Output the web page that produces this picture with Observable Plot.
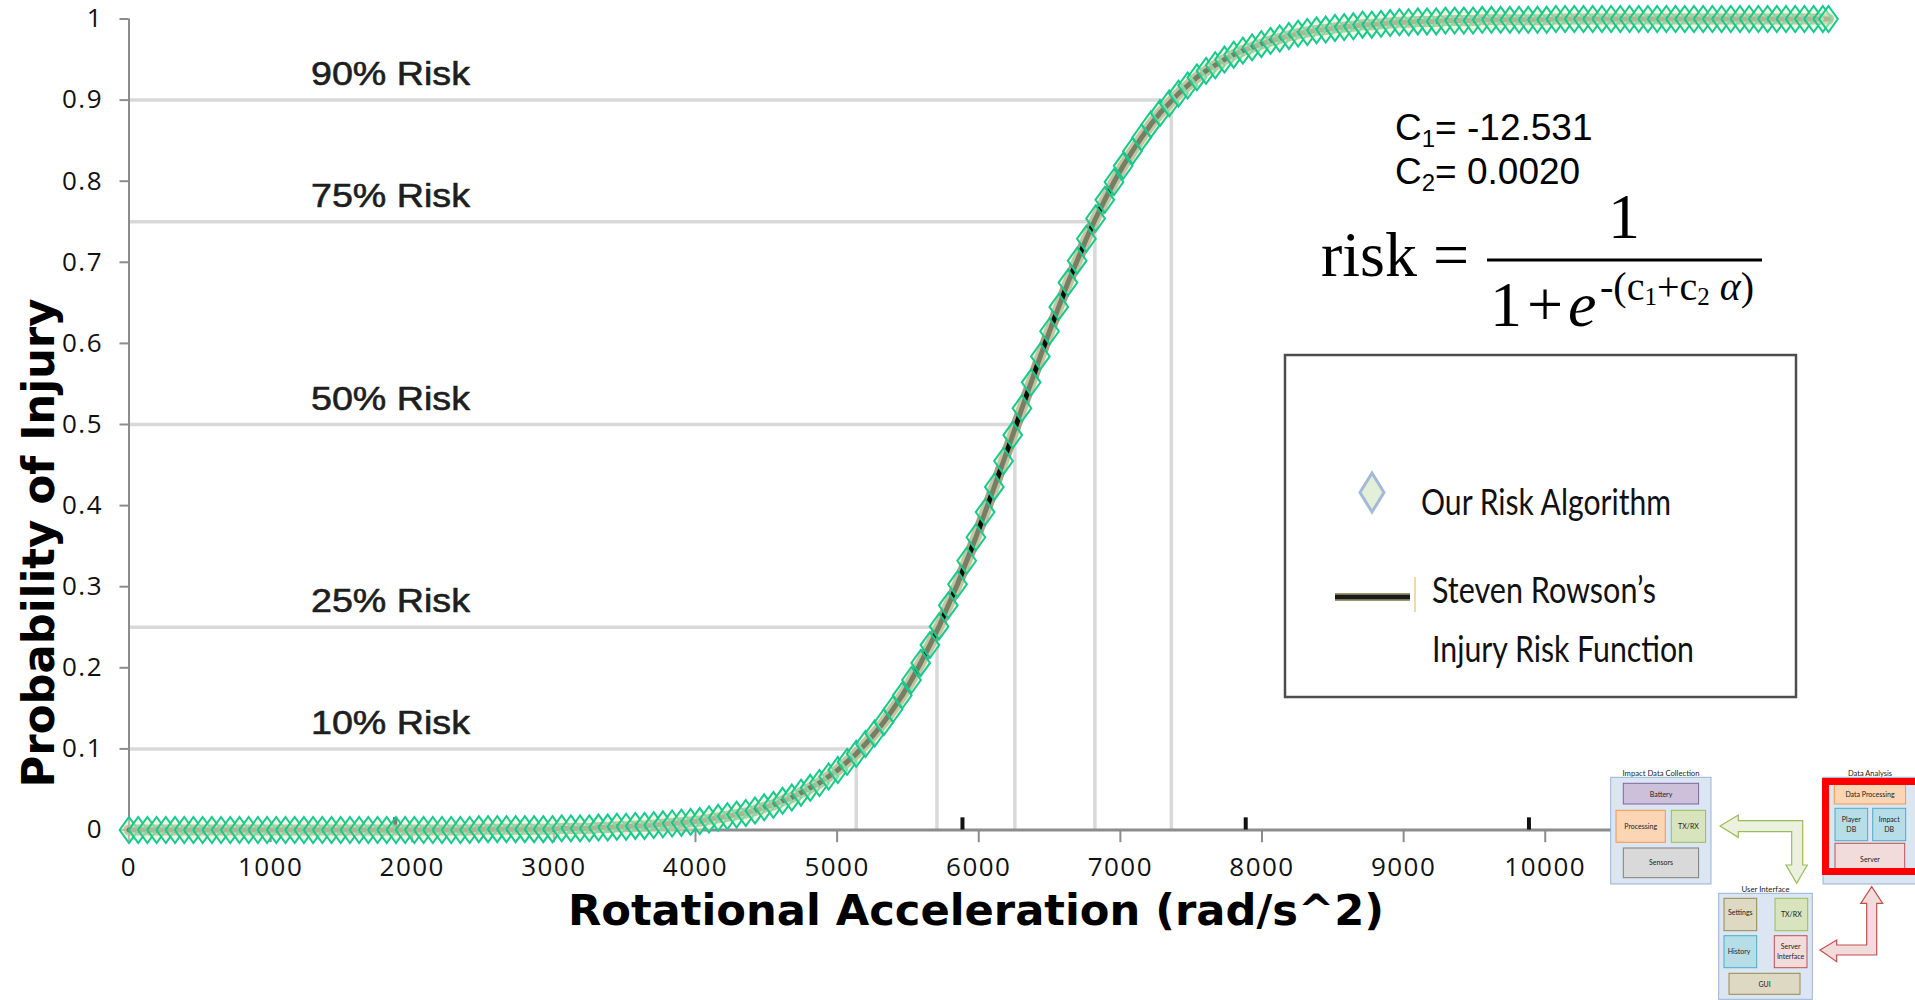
<!DOCTYPE html>
<html>
<head>
<meta charset="utf-8">
<script src="https://cdn.jsdelivr.net/npm/d3@7"></script>
<script src="https://cdn.jsdelivr.net/npm/@observablehq/plot@0.6"></script>
<style>
  html, body { margin: 0; padding: 0; background: #fff; }
  #wrap { position: relative; width: 1915px; height: 1000px; overflow: hidden; }
  #chart svg { display: block; }
  #overlay { position: absolute; left: 0; top: 0; pointer-events: none; }
  #chart [aria-label^="x-axis"] line, #chart [aria-label^="y-axis"] line,
  #chart [aria-label="x-axis tick"] path, #chart [aria-label="y-axis tick"] path,
  #chart [aria-label="x-axis tick"], #chart [aria-label="y-axis tick"] { stroke: #8c8c8c; stroke-width: 2px; }
  #chart [aria-label^="x-axis"] text, #chart [aria-label^="y-axis"] text { letter-spacing: 1.5px; fill: #111; }
</style>
</head>
<body>
<div id="wrap">
  <div id="chart"></div>
  <svg id="overlay" width="1915" height="1000" viewBox="0 0 1915 1000" xmlns="http://www.w3.org/2000/svg">
    <!-- axis titles -->
    <text x="976" y="925" text-anchor="middle" font-family="'DejaVu Sans', sans-serif" font-weight="bold" font-size="42" textLength="816" lengthAdjust="spacingAndGlyphs" fill="#000">Rotational Acceleration (rad/s^2)</text>
    <text transform="translate(54,543) rotate(-90)" text-anchor="middle" font-family="'DejaVu Sans', sans-serif" font-weight="bold" font-size="44" textLength="489" lengthAdjust="spacingAndGlyphs" fill="#000">Probability of Injury</text>

    <!-- coefficients -->
    <text x="1395" y="140" font-family="'Liberation Sans', Arial, sans-serif" font-size="37" fill="#000">C<tspan font-size="24" dy="7">1</tspan><tspan dy="-7">= -12.531</tspan></text>
    <text x="1395" y="184" font-family="'Liberation Sans', Arial, sans-serif" font-size="37" fill="#000">C<tspan font-size="24" dy="7">2</tspan><tspan dy="-7">= 0.0020</tspan></text>

    <!-- formula -->
    <g font-family="'Liberation Serif', 'Times New Roman', serif" fill="#000">
      <text x="1321" y="276" font-size="64">risk =</text>
      <text x="1624" y="238" font-size="64" text-anchor="middle">1</text>
      <line x1="1487" x2="1762" y1="260" y2="260" stroke="#000" stroke-width="3"/>
      <text x="1490" y="326" font-size="64">1</text>
      <text x="1527" y="326" font-size="64">+</text>
      <text x="1568" y="326" font-size="64" font-style="italic">e</text>
      <text x="1600" y="300" font-size="40">-(c<tspan font-size="25" dy="5">1</tspan><tspan dy="-5">+c</tspan><tspan font-size="25" dy="5">2</tspan><tspan dy="-5"> </tspan><tspan font-style="italic">α</tspan>)</text>
    </g>

    <!-- legend -->
    <rect x="1285" y="355" width="511" height="342" fill="#fff" stroke="#4d4d4d" stroke-width="2.5"/>
    <path d="M1372,473 L1384,492.5 L1372,512 L1360,492.5 Z" fill="#e2efd9" stroke="#a4b9d6" stroke-width="3"/>
    <text x="1421" y="515" font-family="Lato, 'Open Sans', sans-serif" font-size="37" textLength="250" lengthAdjust="spacingAndGlyphs" fill="#111">Our Risk Algorithm</text>
    <line x1="1335" x2="1410" y1="597" y2="597" stroke="#9a9670" stroke-width="8"/>
    <line x1="1335" x2="1410" y1="597" y2="597" stroke="#1a1a1a" stroke-width="4.5"/>
    <line x1="1415" x2="1415" y1="577" y2="612" stroke="#f0c98a" stroke-width="1.5"/>
    <text x="1432" y="603" font-family="Lato, 'Open Sans', sans-serif" font-size="37" textLength="224" lengthAdjust="spacingAndGlyphs" fill="#111">Steven Rowson’s</text>
    <text x="1432" y="662" font-family="Lato, 'Open Sans', sans-serif" font-size="37" textLength="262" lengthAdjust="spacingAndGlyphs" fill="#111">Injury Risk Function</text>

    <!-- system diagram -->
    <g font-family="Lato, 'Open Sans', sans-serif" fill="#222" stroke-width="1">
      <text x="1661" y="776" font-size="8" text-anchor="middle" textLength="77" lengthAdjust="spacingAndGlyphs">Impact Data Collection</text>
      <rect x="1610.7" y="777.3" width="100.3" height="106.7" fill="#dce6f2" stroke="#95b3d7"/>
      <rect x="1623.3" y="783.3" width="75.3" height="20.7" fill="#ccc0da" stroke="#8064a2"/>
      <text x="1661" y="796.5" font-size="7" text-anchor="middle">Battery</text>
      <rect x="1616" y="810.3" width="49.3" height="32" fill="#fcd5b5" stroke="#f79646"/>
      <text x="1640.7" y="829" font-size="7" text-anchor="middle">Processing</text>
      <rect x="1671.3" y="810.3" width="34.3" height="32" fill="#d7e4bd" stroke="#9bbb59"/>
      <text x="1688.5" y="829" font-size="7" text-anchor="middle">TX/RX</text>
      <rect x="1623.3" y="848" width="75.3" height="29.7" fill="#d9d9d9" stroke="#7f7f7f"/>
      <text x="1661" y="865" font-size="7" text-anchor="middle">Sensors</text>

      <text x="1870" y="776" font-size="8" text-anchor="middle" textLength="44" lengthAdjust="spacingAndGlyphs">Data Analysis</text>
      <rect x="1823" y="777.3" width="100" height="106.7" fill="#dce6f2" stroke="#95b3d7"/>
      <rect x="1834.3" y="783.3" width="71.3" height="20.7" fill="#fcd5b5" stroke="#f79646"/>
      <text x="1870" y="796.5" font-size="7" text-anchor="middle">Data Processing</text>
      <rect x="1835" y="808.3" width="32.7" height="32.4" fill="#b7dde8" stroke="#4bacc6"/>
      <text x="1851.3" y="821.5" font-size="7" text-anchor="middle">Player</text>
      <text x="1851.3" y="831.5" font-size="7" text-anchor="middle">DB</text>
      <rect x="1872.7" y="808.3" width="33" height="32.4" fill="#b7dde8" stroke="#4bacc6"/>
      <text x="1889.2" y="821.5" font-size="7" text-anchor="middle">Impact</text>
      <text x="1889.2" y="831.5" font-size="7" text-anchor="middle">DB</text>
      <rect x="1835" y="843.3" width="69.7" height="30.7" fill="#f2dcdb" stroke="#c0504d"/>
      <text x="1870" y="862" font-size="7" text-anchor="middle">Server</text>
      <rect x="1825.5" y="781.5" width="100" height="90" fill="none" stroke="#ff0000" stroke-width="7"/>

      <text x="1765.5" y="892" font-size="8" text-anchor="middle" textLength="48" lengthAdjust="spacingAndGlyphs">User Interface</text>
      <rect x="1718.7" y="893.3" width="93.6" height="106" fill="#dce6f2" stroke="#95b3d7"/>
      <rect x="1724" y="898.3" width="32.7" height="32.4" fill="#ddd9c3" stroke="#948a54"/>
      <text x="1740.3" y="915" font-size="7" text-anchor="middle">Settings</text>
      <rect x="1775" y="898.3" width="32.7" height="32.4" fill="#d7e4bd" stroke="#9bbb59"/>
      <text x="1791.3" y="917" font-size="7" text-anchor="middle">TX/RX</text>
      <rect x="1724" y="935.7" width="32.7" height="32" fill="#b7dde8" stroke="#4bacc6"/>
      <text x="1739" y="953.5" font-size="7" text-anchor="middle">History</text>
      <rect x="1774.3" y="935.7" width="32.7" height="32" fill="#f2dcdb" stroke="#c0504d"/>
      <text x="1790.6" y="949" font-size="7" text-anchor="middle">Server</text>
      <text x="1790.6" y="959" font-size="7" text-anchor="middle">Interface</text>
      <rect x="1729" y="973.3" width="71" height="21" fill="#ddd9c3" stroke="#948a54"/>
      <text x="1764.5" y="986.5" font-size="7" text-anchor="middle">GUI</text>

      <path d="M1720,826 L1738.3,815 L1738.3,820.7 L1802.7,820.7 L1802.7,865 L1807.3,865 L1796.7,883.3 L1786,865 L1791.7,865 L1791.7,831.7 L1738.3,831.7 L1738.3,837.3 Z" fill="#ebf1de" stroke="#9bbb59" stroke-width="1.2"/>
      <path d="M1871.7,886.7 L1882.7,903.3 L1876.7,903.3 L1876.7,955 L1836.7,955 L1836.7,961.7 L1820,950 L1836.7,940 L1836.7,945 L1866.7,945 L1866.7,903.3 L1860.7,903.3 Z" fill="#f2dcdb" stroke="#c0504d" stroke-width="1.2"/>
    </g>
  </svg>
</div>
<script>
// ---- data ----
const accel = [
  0,65,130,195,260,325,390,455,520,585,
  650,715,780,845,910,975,1040,1105,1170,1235,
  1300,1365,1430,1495,1560,1625,1690,1755,1820,1885,
  1950,2015,2080,2145,2210,2275,2340,2405,2470,2535,
  2600,2665,2730,2795,2860,2925,2990,3055,3120,3185,
  3250,3315,3380,3445,3510,3575,3640,3705,3770,3835,
  3900,3965,4030,4095,4160,4225,4290,4355,4420,4485,
  4550,4615,4680,4745,4810,4875,4940,5005,5070,5135,
  5200,5265,5330,5395,5460,5525,5590,5655,5720,5785,
  5850,5915,5980,6045,6110,6175,6240,6305,6370,6435,
  6500,6565,6630,6695,6760,6825,6890,6955,7020,7085,
  7150,7215,7280,7345,7410,7475,7540,7605,7670,7735,
  7800,7865,7930,7995,8060,8125,8190,8255,8320,8385,
  8450,8515,8580,8645,8710,8775,8840,8905,8970,9035,
  9100,9165,9230,9295,9360,9425,9490,9555,9620,9685,
  9750,9815,9880,9945,10010,10075,10140,10205,10270,10335,
  10400,10465,10530,10595,10660,10725,10790,10855,10920,10985,
  11050,11115,11180,11245,11310,11375,11440,11505,11570,11635,
  11700,11765,11830,11895,11960,12000
];
const riskProb = [
  0,0,0,0,0,0,0,0,0,0,
  0,0,0,0,0,0,0,0,0,0,
  0,0,0,0,0,0,0,0,0,0,
  0,0,0,0,0,0,0,0,0.001,0.001,
  0.001,0.001,0.001,0.001,0.001,0.001,0.001,0.002,0.002,0.002,
  0.002,0.003,0.003,0.004,0.004,0.005,0.005,0.006,0.007,0.008,
  0.009,0.010,0.011,0.013,0.015,0.017,0.019,0.021,0.024,0.028,
  0.031,0.036,0.040,0.046,0.052,0.058,0.066,0.074,0.084,0.094,
  0.106,0.119,0.133,0.149,0.166,0.185,0.206,0.228,0.251,0.277,
  0.303,0.332,0.361,0.392,0.423,0.455,0.487,0.520,0.552,0.584,
  0.615,0.645,0.675,0.702,0.729,0.754,0.777,0.799,0.819,0.837,
  0.854,0.870,0.884,0.896,0.908,0.918,0.928,0.936,0.943,0.950,
  0.956,0.961,0.965,0.969,0.973,0.976,0.979,0.982,0.984,0.986,
  0.987,0.989,0.990,0.991,0.993,0.993,0.994,0.995,0.996,0.996,
  0.997,0.997,0.997,0.998,0.998,0.998,0.998,0.999,0.999,0.999,
  0.999,0.999,0.999,0.999,0.999,1,1,1,1,1,
  1,1,1,1,1,1,1,1,1,1,
  1,1,1,1,1,1,1,1,1,1,
  1,1,1,1,1,1
];
const riskLevels = [0.1, 0.25, 0.5, 0.75, 0.9];
const riskLevelAccel = [5135, 5705, 6255, 6820, 7360];
const riskLabels = ["10% Risk", "25% Risk", "50% Risk", "75% Risk", "90% Risk"];
const xTicks = [0, 1000, 2000, 3000, 4000, 5000, 6000, 7000, 8000, 9000, 10000];
const yTicks = [0, 0.1, 0.2, 0.3, 0.4, 0.5, 0.6, 0.7, 0.8, 0.9, 1];
const darkMarks = [1880, 5885, 7885, 9885];
const axisEnd = 10500;

// ---- tables built from the arrays ----
const points = accel.map((a, i) => ({accel: a, risk: riskProb[i]}));
const drops = riskLevels.map((p, i) => ({level: p, accel: riskLevelAccel[i], label: riskLabels[i]}));

const tallDiamond = {
  draw(ctx, size) {
    const r = Math.sqrt(size / Math.PI);
    const w = r * 0.72, h = r;
    ctx.moveTo(0, -h); ctx.lineTo(w, 0); ctx.lineTo(0, h); ctx.lineTo(-w, 0); ctx.closePath();
  }
};

const chart = Plot.plot({
  width: 1915,
  height: 1000,
  marginLeft: 128.5,
  marginRight: 87,
  marginTop: 18.5,
  marginBottom: 170.5,
  style: {fontFamily: "'Open Sans', sans-serif", fontSize: "26px", color: "#111", background: "transparent", overflow: "visible"},
  x: {domain: [0, 12000], ticks: xTicks, tickFormat: d => String(d), tickSize: 12.7, tickPadding: 14.5, label: null},
  y: {domain: [0, 1], ticks: yTicks, tickFormat: d => String(d), tickSize: 9, tickPadding: 17, label: null},
  marks: [
    Plot.ruleY(drops, {y: "level", x1: 0, x2: "accel", stroke: "#d9d9d9", strokeWidth: 3.5}),
    Plot.ruleX(drops, {x: "accel", y1: 0, y2: "level", stroke: "#d9d9d9", strokeWidth: 3.5}),
    Plot.text(drops, {y: "level", text: "label", frameAnchor: "left", dx: 182, dy: -15, textAnchor: "start", lineAnchor: "bottom",
      fontFamily: "'Liberation Sans', Arial, sans-serif", fontSize: 33, fill: "#1e1e1e", stroke: "#1e1e1e", strokeWidth: 0.6}),
    Plot.ruleX([0], {y1: 0, y2: 1, stroke: "#8c8c8c", strokeWidth: 2}),
    Plot.ruleY([0], {x1: 0, x2: axisEnd, stroke: "#8c8c8c", strokeWidth: 3}),
    Plot.ruleX(darkMarks, {x: d => d, y1: 0, y2: 0.015, stroke: "#111", strokeWidth: 4}),
    Plot.line(points, {x: "accel", y: "risk", stroke: "#8e8a62", strokeWidth: 11, strokeOpacity: 0.8}),
    Plot.line(points, {x: "accel", y: "risk", stroke: "#0e0e08", strokeWidth: 5}),
    Plot.dot(points, {x: "accel", y: "risk", r: 13, symbol: tallDiamond, fill: "#e2eec2", fillOpacity: 0.5, stroke: "#16c98e", strokeWidth: 2})
  ]
});

chart.querySelectorAll("text").forEach(t => {
  if (/% Risk$/.test(t.textContent)) {
    t.setAttribute("textLength", "159");
    t.setAttribute("lengthAdjust", "spacingAndGlyphs");
  }
});

document.getElementById("chart").appendChild(chart);
</script>
</body>
</html>
